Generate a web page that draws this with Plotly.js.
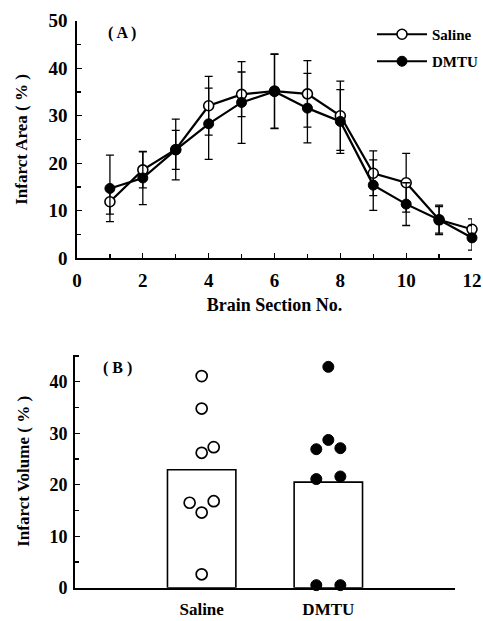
<!DOCTYPE html>
<html><head><meta charset="utf-8">
<script src="https://cdn.plot.ly/plotly-3.0.1.min.js"></script>
<style>html,body{margin:0;padding:0;background:#fff}#c{width:483px;height:621px}</style>
</head><body><div id="c"></div>
<script>
// Panel A data
const sections = [1,2,3,4,5,6,7,8,9,10,11,12];
const salineArea = [11.9,18.6,22.9,32.1,34.5,35.2,34.6,30.0,17.9,15.9,8.1,6.1];
const salineErr  = [2.6,3.8,6.4,6.2,4.7,7.8,7.0,7.3,4.7,6.2,2.8,2.2];
const dmtuArea   = [14.7,16.9,22.8,28.3,32.8,35.1,31.6,28.8,15.4,11.4,8.1,4.3];
const dmtuErr    = [7.0,5.6,4.1,7.5,8.6,7.8,7.3,6.7,5.3,4.5,3.1,2.6];
// Panel B data
const groups = ['Saline','DMTU'];
const groupMeans = [22.9, 20.5];
const salineVolume = [41.1,34.8,26.2,27.3,16.5,16.8,14.6,2.6];
const salineColumn = [0,0,0,1,-1,1,0,0];
const dmtuVolume = [42.9,28.7,26.9,27.1,21.1,21.6,0.5,0.5];
const dmtuColumn = [0,0,-1,1,-1,1,-1,1];

const SERIF = 'Liberation Serif, Times New Roman, serif';
const bf = (s)=>({family:SERIF,size:s,color:'#000',weight:'bold'});
const spread = 0.095;

const traces = [
  {x:sections,y:salineArea,type:'scatter',mode:'lines+markers',name:'Saline',
   xaxis:'x',yaxis:'y',legend:'legend',cliponaxis:false,
   line:{color:'#000',width:2.2},
   marker:{symbol:'circle',size:10,color:'#fff',line:{color:'#000',width:1.6}},
   error_y:{type:'data',array:salineErr,visible:true,color:'#000',thickness:1.3,width:4}},
  {x:sections,y:dmtuArea,type:'scatter',mode:'lines+markers',name:'DMTU',
   xaxis:'x',yaxis:'y',legend:'legend2',cliponaxis:false,
   line:{color:'#000',width:2.2},
   marker:{symbol:'circle',size:10,color:'#000',line:{color:'#000',width:1}},
   error_y:{type:'data',array:dmtuErr,visible:true,color:'#000',thickness:1.3,width:4}},
  {x:[1,2],y:groupMeans,type:'bar',width:0.54,xaxis:'x2',yaxis:'y2',showlegend:false,
   marker:{color:'#fff',line:{color:'#000',width:1.6}}},
  {x:salineColumn.map(c=>1+c*spread),y:salineVolume,type:'scatter',mode:'markers',
   xaxis:'x2',yaxis:'y2',showlegend:false,cliponaxis:false,
   marker:{symbol:'circle',size:11,color:'#fff',line:{color:'#000',width:1.7}}},
  {x:dmtuColumn.map(c=>2+c*spread),y:dmtuVolume,type:'scatter',mode:'markers',
   xaxis:'x2',yaxis:'y2',showlegend:false,cliponaxis:false,
   marker:{symbol:'circle',size:11,color:'#000',line:{color:'#000',width:1}}}
];

const axBase = {showgrid:false,zeroline:false,showline:true,linecolor:'#000',linewidth:1.8,
  ticks:'inside',tickcolor:'#000',tickwidth:1.3,ticklen:5,tickfont:bf(19)};
const minorY = {ticks:'inside',dtick:5,ticklen:4,tickcolor:'#000',tickwidth:1.3};

const layout = {
  width:483,height:621,margin:{l:0,r:0,t:0,b:0},
  paper_bgcolor:'#fff',plot_bgcolor:'#fff',
  xaxis:Object.assign({},axBase,{domain:[77/483,472/483],range:[0,12],dtick:2,tick0:0,
     ticklabelstandoff:4,
     minor:{ticks:'inside',dtick:1,ticklen:4,tickcolor:'#000',tickwidth:1.3},
     title:{text:'Brain Section No.',font:bf(18),standoff:8},anchor:'y'}),
  yaxis:Object.assign({},axBase,{domain:[1-258.3/621,1-20.7/621],range:[0,50],dtick:10,
     ticklabelstandoff:4,minor:minorY,
     title:{text:'Infarct Area ( % )',font:bf(17),standoff:16},anchor:'x'}),
  xaxis2:Object.assign({},axBase,{domain:[75/483,455/483],range:[0,3],ticks:'',
     tickvals:[1,2],ticktext:groups,tickfont:bf(17),ticklabelstandoff:5,anchor:'y2'}),
  yaxis2:Object.assign({},axBase,{domain:[1-587.7/621,1-355/621],range:[0,45.2],dtick:10,
     tickfont:bf(18),ticklabelstandoff:2,minor:minorY,
     title:{text:'Infarct Volume ( % )',font:bf(17),standoff:16},anchor:'x2'}),
  legend:{x:372/483,y:1-18/621,xanchor:'left',yanchor:'top',bgcolor:'rgba(0,0,0,0)',
     font:bf(15),itemwidth:50,tracegroupgap:0},
  legend2:{x:372/483,y:1-45/621,xanchor:'left',yanchor:'top',bgcolor:'rgba(0,0,0,0)',
     font:bf(15),itemwidth:50,tracegroupgap:0},
  annotations:[
    {text:'( A )',xref:'paper',yref:'paper',x:122/483,y:1-33/621,xanchor:'center',yanchor:'middle',showarrow:false,font:bf(16)},
    {text:'( B )',xref:'paper',yref:'paper',x:117/483,y:1-368/621,xanchor:'center',yanchor:'middle',showarrow:false,font:bf(16)}
  ],
  showlegend:true
};

Plotly.newPlot('c',traces,layout,{displayModeBar:false,staticPlot:true});
</script></body></html>
